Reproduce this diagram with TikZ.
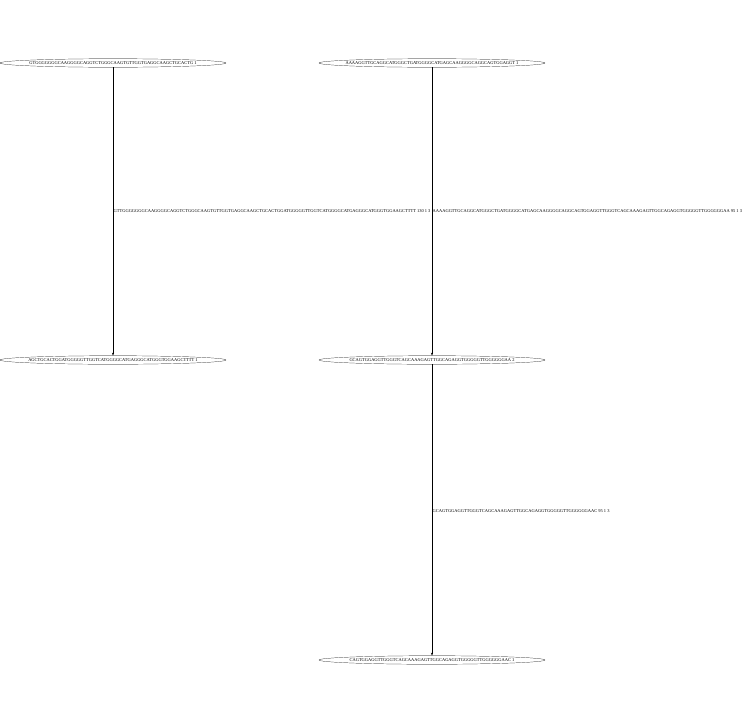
\documentclass[tikz,border=0pt]{standalone}
\usepackage{fontspec}
\setmainfont{Liberation Serif}
\usetikzlibrary{shapes.geometric,arrows.meta}
\begin{document}
\begin{tikzpicture}[x=1pt,y=-1pt,
  seq/.style={ellipse,draw,line width=0.2pt,inner xsep=-40pt,inner ysep=0pt,minimum width=226pt,minimum height=8.5pt,
    font=\fontsize{4.45}{5}\selectfont},
  link/.style={draw,line width=0.2pt,-{Stealth[length=3pt,width=2pt]}},
  lbl/.style={anchor=west,inner sep=0.5pt,font=\fontsize{4.45}{5}\selectfont}]
\useasboundingbox (0,0) rectangle (744,723);
\node[seq] (a) at (113,63) {GTGGGGGGGCAAGGGGCAGGTCTGGGCAAGTGTTGGTGAGGCAAGCTGCACTG 1};
\node[seq] (b) at (432,63) {AAAAGGTTGCAGGCATGGGCTGATGGGGCATGAGCAAGGGGCAGGCAGTGGAGGT 1};
\node[seq] (c) at (113,360) {AGCTGCACTGGATGGGGGTTGGTCATGGGGCATGAGGGCATGGGTGGAAGCTTTT 1};
\node[seq] (d) at (432,360) {GCAGTGGAGGTTGGGTCAGCAAAGAGTTGGCAGAGGTGGGGGTTGGGGGGAA 2};
\node[seq] (e) at (432,660) {CAGTGGAGGTTGGGTCAGCAAAGAGTTGGCAGAGGTGGGGGTTGGGGGGAAC 1};
\draw[link] (a) -- (c);
\draw[link] (b) -- (d);
\draw[link] (d) -- (e);
\node[lbl] (la) at (113,211) {GTTGGGGGGGCAAGGGGCAGGTCTGGGCAAGTGTTGGTGAGGCAAGCTGCACTGGATGGGGGTTGGTCATGGGGCATGAGGGCATGGGTGGAAGCTTTT 130 1 3};
\node[lbl] (lb) at (432,211) {AAAAGGTTGCAGGCATGGGCTGATGGGGCATGAGCAAGGGGCAGGCAGTGGAGGTTGGGTCAGCAAAGAGTTGGCAGAGGTGGGGGTTGGGGGGAA 95 1 3};
\node[lbl] (lc) at (432,511) {GCAGTGGAGGTTGGGTCAGCAAAGAGTTGGCAGAGGTGGGGGTTGGGGGGAAC 95 1 3};
\end{tikzpicture}
\end{document}
